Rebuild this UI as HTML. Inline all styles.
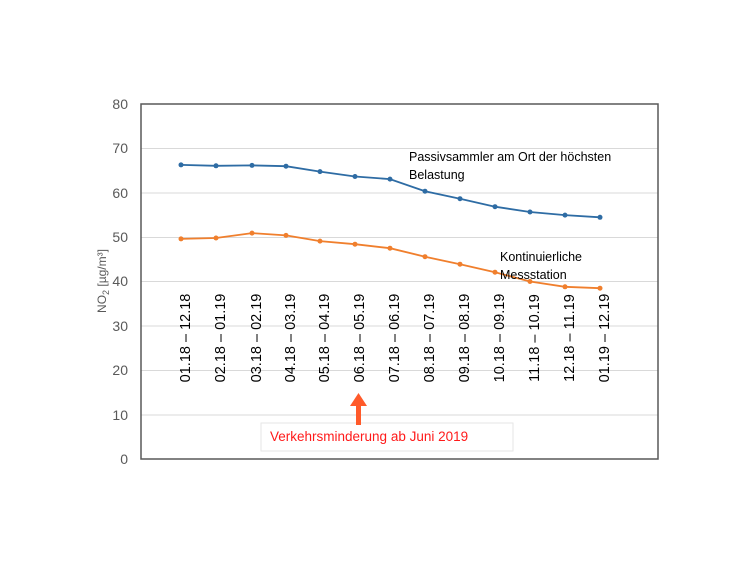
<!DOCTYPE html>
<html><head><style>body{margin:0;background:#fff}</style></head><body>
<svg width="751" height="563" xmlns="http://www.w3.org/2000/svg" font-family="Liberation Sans, sans-serif">
<rect width="751" height="563" fill="#fff"/>
<g stroke="#d9d9d9" stroke-width="1">
<line x1="141" x2="658" y1="148.5" y2="148.5"/><line x1="141" x2="658" y1="193" y2="193"/>
<line x1="141" x2="658" y1="237.5" y2="237.5"/><line x1="141" x2="658" y1="281.5" y2="281.5"/>
<line x1="141" x2="658" y1="326" y2="326"/><line x1="141" x2="658" y1="370.5" y2="370.5"/>
<line x1="141" x2="658" y1="415" y2="415"/>
</g>
<rect x="141" y="104" width="517" height="355" fill="none" stroke="#595959" stroke-width="1.5"/>
<g font-size="14" fill="#595959" text-anchor="end">
<text x="128" y="109">80</text><text x="128" y="153">70</text><text x="128" y="198">60</text>
<text x="128" y="242">50</text><text x="128" y="286">40</text><text x="128" y="331">30</text>
<text x="128" y="375">20</text><text x="128" y="420">10</text><text x="128" y="464">0</text>
</g>
<text transform="translate(106,281) rotate(-90)" font-size="12" fill="#595959" text-anchor="middle">NO<tspan font-size="9" dy="3">2</tspan><tspan dy="-3"> [µg/m³]</tspan></text>
<polyline fill="none" stroke="#2e6ca4" stroke-width="1.8" points="181,164.9 216,165.8 252,165.4 286,166.2 320,171.6 355,176.5 390,179.1 425,191.2 460,198.7 495,206.7 530,212 565,215.1 600,217.3"/>
<g fill="#2e6ca4"><circle cx="181" cy="164.9" r="2.5"/><circle cx="216" cy="165.8" r="2.5"/><circle cx="252" cy="165.4" r="2.5"/><circle cx="286" cy="166.2" r="2.5"/><circle cx="320" cy="171.6" r="2.5"/><circle cx="355" cy="176.5" r="2.5"/><circle cx="390" cy="179.1" r="2.5"/><circle cx="425" cy="191.2" r="2.5"/><circle cx="460" cy="198.7" r="2.5"/><circle cx="495" cy="206.7" r="2.5"/><circle cx="530" cy="212" r="2.5"/><circle cx="565" cy="215.1" r="2.5"/><circle cx="600" cy="217.3" r="2.5"/></g>
<polyline fill="none" stroke="#f07f2d" stroke-width="1.8" points="181,238.9 216,238 252,233.1 286,235.4 320,241.1 355,244.2 390,248.2 425,256.7 460,264.2 495,272.2 530,281.5 565,286.8 600,288.2"/>
<g fill="#f07f2d"><circle cx="181" cy="238.9" r="2.5"/><circle cx="216" cy="238" r="2.5"/><circle cx="252" cy="233.1" r="2.5"/><circle cx="286" cy="235.4" r="2.5"/><circle cx="320" cy="241.1" r="2.5"/><circle cx="355" cy="244.2" r="2.5"/><circle cx="390" cy="248.2" r="2.5"/><circle cx="425" cy="256.7" r="2.5"/><circle cx="460" cy="264.2" r="2.5"/><circle cx="495" cy="272.2" r="2.5"/><circle cx="530" cy="281.5" r="2.5"/><circle cx="565" cy="286.8" r="2.5"/><circle cx="600" cy="288.2" r="2.5"/></g>
<g font-size="14.5" fill="#000" text-anchor="middle">
<text transform="translate(190,338) rotate(-90)">01.18 – 12.18</text>
<text transform="translate(225,338) rotate(-90)">02.18 – 01.19</text>
<text transform="translate(261,338) rotate(-90)">03.18 – 02.19</text>
<text transform="translate(295,338) rotate(-90)">04.18 – 03.19</text>
<text transform="translate(329,338) rotate(-90)">05.18 – 04.19</text>
<text transform="translate(364,338) rotate(-90)">06.18 – 05.19</text>
<text transform="translate(399,338) rotate(-90)">07.18 – 06.19</text>
<text transform="translate(434,338) rotate(-90)">08.18 – 07.19</text>
<text transform="translate(469,338) rotate(-90)">09.18 – 08.19</text>
<text transform="translate(504,338) rotate(-90)">10.18 – 09.19</text>
<text transform="translate(539,338) rotate(-90)">11.18 – 10.19</text>
<text transform="translate(574,338) rotate(-90)">12.18 – 11.19</text>
<text transform="translate(609,338) rotate(-90)">01.19 – 12.19</text>
</g>
<g font-size="12.5" fill="#000">
<text x="409" y="161">Passivsammler am Ort der höchsten</text>
<text x="409" y="179">Belastung</text>
<text x="500" y="261">Kontinuierliche</text>
<text x="500" y="279">Messstation</text>
</g>
<rect x="261" y="423" width="252" height="28" fill="#fff" stroke="#e6e6e6"/>
<text x="270" y="441" font-size="13.5" fill="#ff1a1a">Verkehrsminderung ab Juni 2019</text>
<rect x="356" y="405" width="5" height="20" fill="#ff5a2a"/>
<polygon points="350,406 367,406 358.5,393" fill="#ff5a2a"/>
</svg>
</body></html>
